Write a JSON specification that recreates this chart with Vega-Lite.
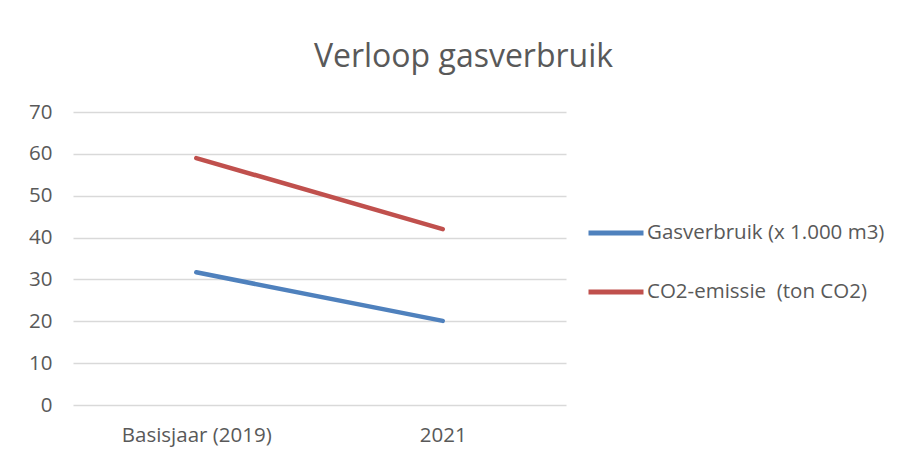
{
  "$schema": "https://vega.github.io/schema/vega-lite/v6.json",
  "width": 493,
  "height": 293,
  "autosize": {"type": "none"},
  "padding": {"left": 73, "top": 112, "right": 340, "bottom": 51},
  "background": "white",
  "title": {
    "text": "Verloop gasverbruik",
    "fontSize": 32,
    "font": "Open Sans",
    "fontWeight": "normal",
    "color": "#595959",
    "anchor": "middle",
    "frame": "group",
    "dx": 144,
    "offset": 28
  },
  "data": {
    "values": [
      {"jaar": "Basisjaar (2019)", "reeks": "Gasverbruik (x 1.000 m3)", "waarde": 31.7},
      {"jaar": "2021", "reeks": "Gasverbruik (x 1.000 m3)", "waarde": 20.1},
      {"jaar": "Basisjaar (2019)", "reeks": "CO2-emissie \u00a0(ton CO2)", "waarde": 59.0},
      {"jaar": "2021", "reeks": "CO2-emissie \u00a0(ton CO2)", "waarde": 42.0}
    ]
  },
  "mark": {"type": "line", "strokeWidth": 4.5, "strokeCap": "round"},
  "encoding": {
    "x": {
      "field": "jaar",
      "type": "ordinal",
      "sort": ["Basisjaar (2019)", "2021"],
      "scale": {"type": "point", "padding": 0.5},
      "axis": {"title": null, "labelAngle": 0, "domain": false, "ticks": false, "labelPadding": 20, "labelFontSize": 20.5, "labelFont": "Open Sans", "labelColor": "#595959"}
    },
    "y": {
      "field": "waarde",
      "type": "quantitative",
      "scale": {"domain": [0, 70]},
      "axis": {"title": null, "values": [0,10,20,30,40,50,60,70], "domain": false, "ticks": false, "labelPadding": 21, "labelFontSize": 20.5, "labelFont": "Open Sans", "labelColor": "#595959", "gridColor": "#d9d9d9", "gridWidth": 1.3}
    },
    "color": {
      "field": "reeks",
      "type": "nominal",
      "scale": {"domain": ["Gasverbruik (x 1.000 m3)", "CO2-emissie \u00a0(ton CO2)"], "range": ["#4F81BD", "#C0504D"]},
      "legend": {
        "title": null,
        "orient": "none",
        "legendX": 513,
        "legendY": 91,
        "symbolType": "stroke",
        "symbolSize": 3025,
        "symbolStrokeWidth": 5,
        "labelFontSize": 20.5,
        "labelFont": "Open Sans",
        "labelColor": "#595959",
        "labelOffset": 1,
        "labelLimit": 400,
        "rowPadding": 18
      }
    }
  },
  "config": {"view": {"stroke": null}}
}
